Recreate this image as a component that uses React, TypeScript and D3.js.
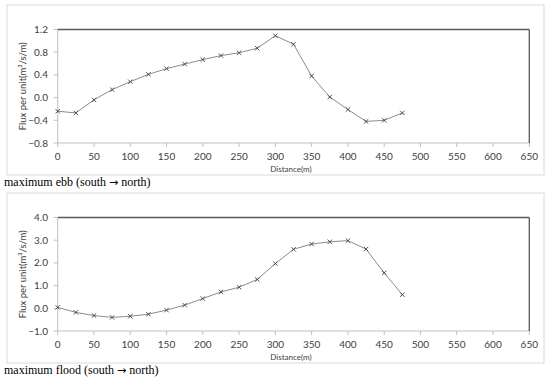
import React from "react";
import * as d3 from "d3";

const distances = [0, 25, 50, 75, 100, 125, 150, 175, 200, 225, 250, 275, 300, 325, 350, 375, 400, 425, 450, 475];
const ebbFlux = [-0.24, -0.27, -0.04, 0.14, 0.28, 0.41, 0.51, 0.59, 0.67, 0.74, 0.79, 0.87, 1.09, 0.94, 0.38, 0.01, -0.21, -0.42, -0.40, -0.27];
const floodFlux = [0.04, -0.18, -0.32, -0.40, -0.35, -0.26, -0.08, 0.14, 0.43, 0.72, 0.93, 1.27, 1.97, 2.60, 2.83, 2.93, 2.98, 2.61, 1.56, 0.60];
const xTicks = [0, 50, 100, 150, 200, 250, 300, 350, 400, 450, 500, 550, 600, 650];
const ebbTicks = [-0.8, -0.4, 0.0, 0.4, 0.8, 1.2];
const floodTicks = [-1.0, 0.0, 1.0, 2.0, 3.0, 4.0];
const ebbCaption = ["maximum ebb (south ", "\u2192", " north)"];
const floodCaption = ["maximum flood (south ", "\u2192", " north)"];
const xTitle = "Distance(m)";
const yTitle = "Flux per unit(m\u00b3/s/m)";

const tickFont = "Lato, 'Open Sans', sans-serif";

type PanelProps = {
  top: number;
  values: number[];
  yTicks: number[];
  yDomain: [number, number];
  caption: string[];
};

function Panel({ top, values, yTicks, yDomain, caption }: PanelProps) {
  const plotTop = top + 24.5;
  const plotBottom = top + 138;
  const x = d3.scaleLinear().domain([0, 650]).range([57.7, 529.3]);
  const y = d3.scaleLinear().domain(yDomain).range([plotBottom, plotTop]);
  const line = d3
    .line<number>()
    .x((_, i) => x(distances[i]))
    .y((v) => y(v));
  const yCenter = (plotTop + plotBottom) / 2;
  const m = 2.2;
  return (
    <g>
      <rect x={7} y={top} width={537} height={170} fill="#fff" stroke="#d9d9d9" strokeWidth={1} />
      <line x1={x(0)} x2={x(0)} y1={plotTop} y2={plotBottom} stroke="#bfbfbf" strokeWidth={1} />
      <line x1={x(0)} x2={x(650)} y1={plotBottom} y2={plotBottom} stroke="#bfbfbf" strokeWidth={1} />
      <line x1={x(0)} x2={x(650)} y1={plotTop} y2={plotTop} stroke="#595959" strokeWidth={1.3} />
      <line x1={x(650)} x2={x(650)} y1={plotTop} y2={plotBottom} stroke="#595959" strokeWidth={1.3} />
      {yTicks.map((t) => (
        <g key={"y" + t}>
          <line x1={x(0) - 4} x2={x(0)} y1={y(t)} y2={y(t)} stroke="#bfbfbf" />
          <text x={48} y={y(t) + 3.5} textAnchor="end" fontSize={10} fontFamily={tickFont} fill="#404040">
            {d3.format(".1f")(t).replace("-", "\u2212")}
          </text>
        </g>
      ))}
      {xTicks.map((t) => (
        <g key={"x" + t}>
          <line x1={x(t)} x2={x(t)} y1={plotBottom} y2={plotBottom + 4} stroke="#bfbfbf" />
          <text x={x(t)} y={plotBottom + 16.5} textAnchor="middle" fontSize={10} fontFamily={tickFont} fill="#404040">
            {t}
          </text>
        </g>
      ))}
      <text x={291} y={top + 167} textAnchor="middle" fontSize={8} fontFamily={tickFont} fill="#404040">
        {xTitle}
      </text>
      <text
        transform={`translate(26,${yCenter}) rotate(-90)`}
        textAnchor="middle"
        fontSize={9.5}
        fontFamily={tickFont}
        fill="#404040"
      >
        {yTitle}
      </text>
      <path d={line(values) || ""} fill="none" stroke="#8c8c8c" strokeWidth={1} />
      {values.map((v, i) => (
        <g key={"m" + i} stroke="#404040" strokeWidth={0.9}>
          <line x1={x(distances[i]) - m} x2={x(distances[i]) + m} y1={y(v) - m} y2={y(v) + m} />
          <line x1={x(distances[i]) - m} x2={x(distances[i]) + m} y1={y(v) + m} y2={y(v) - m} />
        </g>
      ))}
      <text x={4} y={top + 181} fontSize={12} fontFamily="'Liberation Serif', 'DejaVu Serif', serif" fill="#000">
        {caption[0]}
        <tspan fontFamily="'DejaVu Sans', sans-serif" fontSize={11}>{caption[1]}</tspan>
        {caption[2]}
      </text>
    </g>
  );
}

export default function App() {
  return (
    <svg
      width={550}
      height={383}
      style={{ position: "absolute", left: 0, top: 0, background: "#fff" }}
    >
      <rect width={550} height={383} fill="#fff" />
      <Panel top={5} values={ebbFlux} yTicks={ebbTicks} yDomain={[-0.8, 1.2]} caption={ebbCaption} />
      <Panel top={193} values={floodFlux} yTicks={floodTicks} yDomain={[-1.0, 4.0]} caption={floodCaption} />
    </svg>
  );
}
